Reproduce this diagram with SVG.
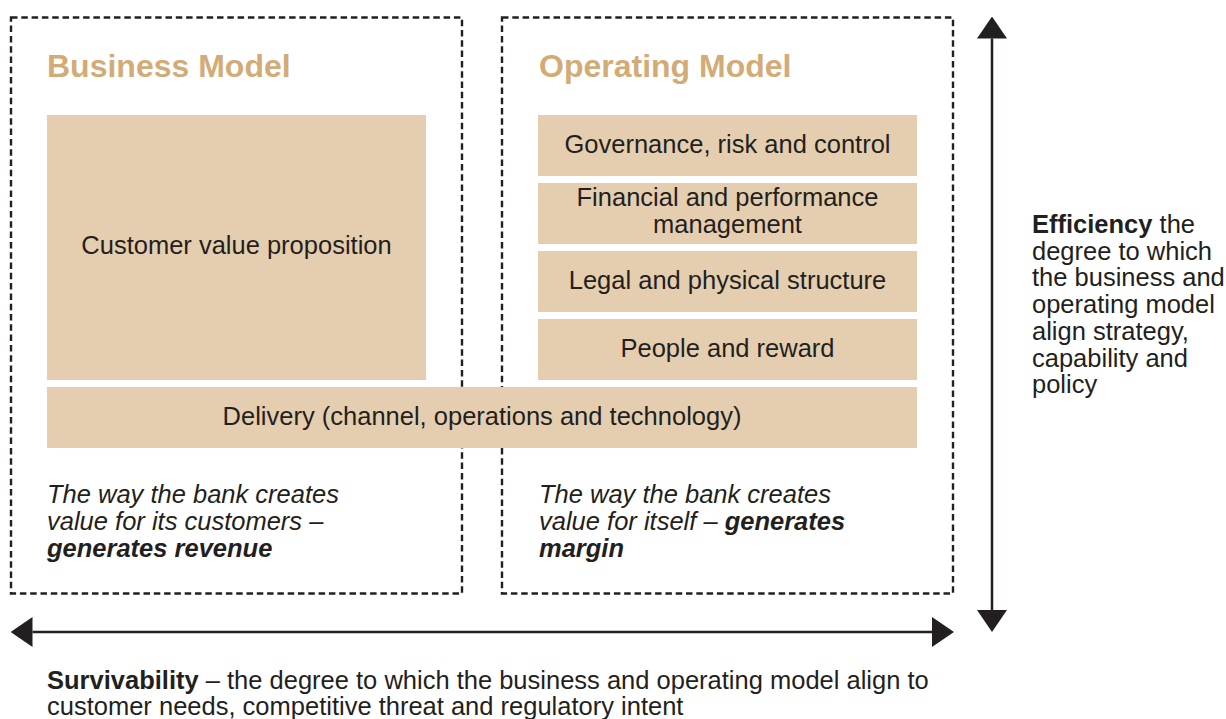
<svg xmlns="http://www.w3.org/2000/svg" width="1226" height="719" viewBox="0 0 1226 719">
<defs>
<style>
.frame{fill:none;stroke:#231F20;stroke-width:2.4;stroke-dasharray:6.5 3.8}
.box{fill:#E5CEAF}
.title{font-family:"Liberation Sans",Arial,sans-serif;font-weight:bold;font-size:32px;fill:#D3AB77}
.t{font-family:"Liberation Sans",Arial,sans-serif;font-size:25.5px;fill:#231F20}
.c{text-anchor:middle}
.i{font-style:italic}
.b{font-weight:bold}
.arrow{stroke:#231F20;stroke-width:2.5;fill:none}
</style>
<marker id="head" markerUnits="userSpaceOnUse" markerWidth="22" markerHeight="30" refX="0" refY="15" orient="auto-start-reverse" viewBox="0 0 22 30">
<path d="M0,0 L22,15 L0,30 Z" fill="#231F20"/>
</marker>
</defs>
<rect width="1226" height="719" fill="#FFFFFF"/>

<g id="business-model">
<rect class="frame" x="11" y="17.5" width="451" height="576"/>
<text class="title" x="47" y="77">Business Model</text>
<text class="t i" x="47" y="503">The way the bank creates</text>
<text class="t i" x="47" y="530">value for its customers –</text>
<text class="t i b" x="47" y="557">generates revenue</text>
</g>

<g id="operating-model">
<rect class="frame" x="502" y="17.5" width="451" height="576"/>
<text class="title" x="539" y="77">Operating Model</text>
<text class="t i" x="539" y="503">The way the bank creates</text>
<text class="t i" x="539" y="530">value for itself – <tspan class="b">generates</tspan></text>
<text class="t i b" x="539" y="557">margin</text>
</g>

<g id="customer-value">
<rect class="box" x="47" y="115" width="379" height="265"/>
<text class="t c" x="236.5" y="254">Customer value proposition</text>
</g>

<g id="governance">
<rect class="box" x="538" y="115" width="379" height="61"/>
<text class="t c" x="727.5" y="152.5">Governance, risk and control</text>
</g>

<g id="financial">
<rect class="box" x="538" y="183" width="379" height="61"/>
<text class="t c" x="727.5" y="206">Financial and performance</text>
<text class="t c" x="727.5" y="232.5">management</text>
</g>

<g id="legal">
<rect class="box" x="538" y="251" width="379" height="61"/>
<text class="t c" x="727.5" y="288.5">Legal and physical structure</text>
</g>

<g id="people">
<rect class="box" x="538" y="319" width="379" height="61"/>
<text class="t c" x="727.5" y="356.5">People and reward</text>
</g>

<g id="delivery">
<rect class="box" x="47" y="387" width="870" height="61"/>
<text class="t c" x="482" y="424.5">Delivery (channel, operations and technology)</text>
</g>

<g id="connectors">
<line class="arrow" x1="992" y1="38.5" x2="992" y2="610" marker-start="url(#head)" marker-end="url(#head)"/>
<line class="arrow" x1="32.5" y1="632" x2="932" y2="632" marker-start="url(#head)" marker-end="url(#head)"/>
</g>

<g id="efficiency-label">
<text class="t" x="1032" y="233"><tspan class="b">Efficiency</tspan> the</text>
<text class="t" x="1032" y="259.7">degree to which</text>
<text class="t" x="1032" y="286.4">the business and</text>
<text class="t" x="1032" y="313.1">operating model</text>
<text class="t" x="1032" y="339.8">align strategy,</text>
<text class="t" x="1032" y="366.5">capability and</text>
<text class="t" x="1032" y="393.2">policy</text>
</g>

<g id="survivability-label">
<text class="t" x="47" y="689"><tspan class="b">Survivability</tspan> – the degree to which the business and operating model align to</text>
<text class="t" x="47" y="715">customer needs, competitive threat and regulatory intent</text>
</g>
</svg>
